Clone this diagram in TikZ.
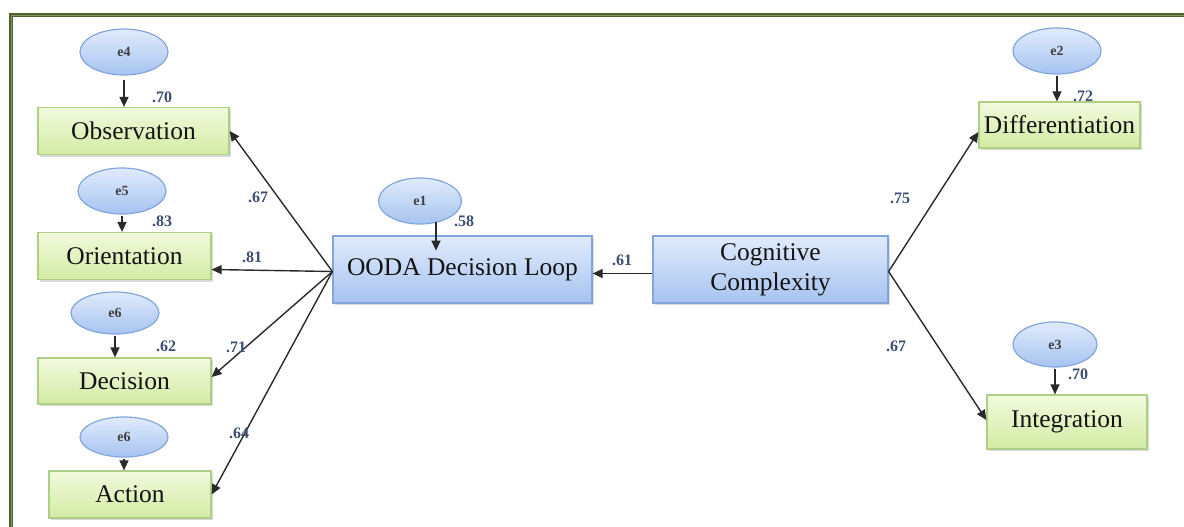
\documentclass[tikz,border=0pt]{standalone}
\usepackage{fontspec}
\setmainfont{Liberation Serif}
\usetikzlibrary{arrows.meta,shadows,calc,shapes.geometric}

\definecolor{frameolive}{HTML}{4F6228}
\definecolor{greentop}{HTML}{F2FADD}
\definecolor{greenbot}{HTML}{D3EBA4}
\definecolor{greenline}{HTML}{AECF85}
\definecolor{bluetop}{HTML}{E1EBFC}
\definecolor{bluebot}{HTML}{A6C3F0}
\definecolor{blueline}{HTML}{83A5DB}
\definecolor{coefcol}{HTML}{3D4E72}
\definecolor{arrowcol}{HTML}{2A2A2A}

\tikzset{
  boxbase/.style={rectangle, inner sep=0pt, align=center,
    font=\fontsize{25.5}{30}\selectfont, text=black!92,
    drop shadow={shadow xshift=2pt, shadow yshift=-2pt, opacity=0.25, fill=black!60}},
  gbox/.style={boxbase, draw=greenline, line width=1.2pt, top color=greentop, bottom color=greenbot},
  bbox/.style={boxbase, draw=blueline, line width=1.2pt, top color=bluetop, bottom color=bluebot},
  errell/.style={ellipse, draw=blueline, line width=1.2pt, top color=bluetop, bottom color=bluebot,
    inner sep=0pt, minimum width=88pt, minimum height=46pt,
    font=\fontsize{14}{17}\selectfont\bfseries, text=black!75},
  coef/.style={inner sep=0pt, font=\fontsize{16}{18}\selectfont\bfseries, text=coefcol},
  arr/.style={draw=arrowcol, line width=1.4pt, -{Triangle[length=10pt,width=9pt]}}
}

\begin{document}
\begin{tikzpicture}[x=1pt, y=-1pt]
\useasboundingbox (0,0) rectangle (1184,527);
\clip (0,0) rectangle (1184,527);

% outer frame (only top and left edges fall inside the page)
\draw[frameolive, line width=4.5pt] (1200,15) -- (11,15) -- (11,540);
\draw[frameolive!70, line width=0.8pt] (1200,15) -- (11,15) -- (11,540);

% indicator boxes, left block
\node[gbox, minimum width=191pt, minimum height=47pt] (obs) at (133.5,131) {Observation};
\node[gbox, minimum width=173pt, minimum height=47pt] (ori) at (124.5,256) {Orientation};
\node[gbox, minimum width=173pt, minimum height=46pt] (dec) at (124.5,381) {Decision};
\node[gbox, minimum width=162pt, minimum height=47pt] (act) at (130,494.5) {Action};

% latent constructs
\node[bbox, minimum width=259pt, minimum height=67pt] (ooda) at (462.5,269.5) {OODA Decision Loop};
\node[bbox, minimum width=235pt, minimum height=67pt] (cc) at (770.5,269.5) {Cognitive\\Complexity};

% indicator boxes, right block
\node[gbox, minimum width=161pt, minimum height=46pt] (diff) at (1059.5,125) {Differentiation};
\node[gbox, minimum width=160pt, minimum height=54pt] (integ) at (1067,422) {Integration};

% error terms
\node[errell] (e4) at (124,52) {e4};
\node[errell] (e5) at (122,191) {e5};
\node[errell, minimum height=42pt] (e6a) at (115,313) {e6};
\node[errell, minimum height=40pt] (e6b) at (124,437) {e6};
\node[errell, minimum width=83pt] (e1) at (420,201) {e1};
\node[errell] (e2) at (1057,51) {e2};
\node[errell, minimum width=84pt, minimum height=45pt] (e3) at (1055,344.5) {e3};

% error paths
\draw[arr, shorten <=4pt] (e4.south) -- (e4.south |- obs.north);
\draw[arr, shorten <=1pt] (e5.south) -- (e5.south |- ori.north);
\draw[arr, shorten <=1pt] (e6a.south) -- (e6a.south |- dec.north);
\draw[arr, shorten <=1pt] (e6b.south) -- (e6b.south |- act.north);
\draw[arr] ($(e1.south)+(16,-3)$) -- ($(e1.south)+(16,26)$);
\draw[arr, shorten <=1pt] (e2.south) -- (e2.south |- diff.north);
\draw[arr, shorten <=1pt] (e3.south) -- (e3.south |- integ.north);

% structural paths
\draw[arr] ($(cc.west)+(0,4)$) -- ($(ooda.east)+(0,4)$);
\draw[arr] ($(ooda.west)+(0,2)$) -- (obs.east);
\draw[arr] ($(ooda.west)+(0,2)$) -- (ooda.west -| ori.east);
\draw[arr] ($(ooda.west)+(0,2)$) -- ($(dec.east)+(0,-4)$);
\draw[arr] ($(ooda.west)+(0,2)$) -- (act.east);
\draw[arr] ($(cc.east)+(0,2)$) -- ($(diff.west)+(0,7)$);
\draw[arr] ($(cc.east)+(0,2)$) -- ($(integ.west)+(0,-2)$);

% coefficients
\node[coef] (c70a) at (162,97) {.70};
\node[coef] (c83) at (162,221) {.83};
\node[coef] (c62) at (166,346) {.62};
\node[coef] (c67a) at (258,197) {.67};
\node[coef] (c81) at (252,257) {.81};
\node[coef] (c71) at (236,347) {.71};
\node[coef] (c64) at (239,433) {.64};
\node[coef] (c58) at (464,221) {.58};
\node[coef] (c61) at (622,260) {.61};
\node[coef] (c75) at (900,198) {.75};
\node[coef] (c67b) at (896,346) {.67};
\node[coef] (c72) at (1083,96) {.72};
\node[coef] (c70b) at (1078,374) {.70};
\end{tikzpicture}
\end{document}
